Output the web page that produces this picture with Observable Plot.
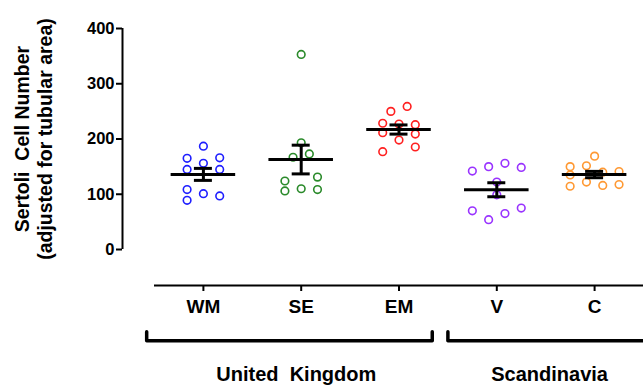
<!DOCTYPE html>
<html><head><meta charset="utf-8">
<script src="https://cdn.jsdelivr.net/npm/d3@7"></script>
<script src="https://cdn.jsdelivr.net/npm/@observablehq/plot@0.6"></script>
<style>
body{margin:0;background:#fff;}
svg text{white-space:pre;}
</style>
</head><body><div id="chart"></div>
<script>
// Categories and colours
const groups = ["WM","SE","EM","V","C"];
const groupColors = ["#1f1fff","#2a8a2a","#ff2020","#9933ff","#ff9933"];

// Individual values (Sertoli cell number) and column slot within each group
const wmValues = [187,165,166,145,156,145,108.5,89,101,97];
const wmSlots  = [0,-2,2,-2,0,2,-2,-2,0,2];
const seValues = [353,193,167,173,124,106,110,131,108.5];
const seSlots  = [0,0,-1,1,-2,-2,0,2,2];
const emValues = [250,259,228.5,227,226,211.5,209,198,177,185.5];
const emSlots  = [-1,1,-2,0,2,-2,2,0,-2,2];
const vValues  = [142,150,156,148.5,122,99,70,54,65,75];
const vSlots   = [-3,-1,1,3,0,0,-3,-1,1,3];
const cValues  = [169,150,151.5,135,140,141,114.5,122,116,117.5];
const cSlots   = [0,-3,-1,-3,1,3,-3,-1,1,3];

// Axis ticks and titles
const yTicks = [0,100,200,300,400];
const yTitle1 = "Sertoli  Cell Number";
const yTitle2 = "(adjusted for tubular area)";

// Region brackets
const regions = ["United  Kingdom","Scandinavia"];
const regionFrom = [-0.58, 2.5];
const regionTo = [2.34, 4.6];
const regionLabelAt = [0.95, 3.54];

const allValues = [wmValues, seValues, emValues, vValues, cValues];
const allSlots = [wmSlots, seSlots, emSlots, vSlots, cSlots];

const points = [];
groups.forEach((g, i) => allValues[i].forEach((v, j) => points.push({group: g, gi: i, slot: allSlots[i][j], value: v})));
const stats = groups.map((g, i) => {
  const vals = allValues[i];
  return {group: g, gi: i, mean: d3.mean(vals), sem: d3.deviation(vals) / Math.sqrt(vals.length)};
});

const SLOT = 1/12, HALF_MEAN = 0.33, HALF_CAP = 0.092;
const bracketY = -165, bracketTickY = -149, regionLabelY = -226;
const bracketPath = [];
regions.forEach((r, k) => {
  bracketPath.push({r, x: regionFrom[k], y: bracketTickY});
  bracketPath.push({r, x: regionFrom[k], y: bracketY});
  bracketPath.push({r, x: regionTo[k], y: bracketY});
  bracketPath.push({r, x: regionTo[k], y: bracketTickY});
});

const chart = Plot.plot({
  width: 643, height: 386,
  marginLeft: 122, insetLeft: 32, marginRight: 0,
  marginTop: 28, marginBottom: 101, insetBottom: 36,
  x: {domain: [-0.5, 4.5], axis: null},
  y: {domain: [0, 400], axis: null},
  color: {domain: groups, range: groupColors},
  style: {fontFamily: "'Liberation Sans', Arial, sans-serif", fontWeight: "bold", color: "black", background: "white", overflow: "visible"},
  marks: [
    // y axis
    Plot.ruleX([-0.5], {y1: 0, y2: 400, dx: -32, strokeWidth: 2}),
    Plot.axisY(yTicks, {anchor: "left", tickSize: 6, tickPadding: 2, fontSize: 16.5, strokeWidth: 2}),
    // x axis
    Plot.ruleY([0], {x1: -0.5, x2: 4.5, dy: 36, strokeWidth: 2}),
    Plot.axisX(d3.range(groups.length), {anchor: "bottom", tickSize: 6, tickPadding: 8, fontSize: 19, strokeWidth: 2, tickFormat: i => groups[i]}),
    // y title
    Plot.text([yTitle1], {frameAnchor: "left", textAnchor: "middle", y: () => 200, rotate: -90, dx: -100, fontSize: 19.5}),
    Plot.text([yTitle2], {frameAnchor: "left", textAnchor: "middle", y: () => 200, rotate: -90, dx: -77, fontSize: 19.5}),
    // dots
    Plot.dot(points, {x: d => d.gi + d.slot * SLOT, y: "value", r: 3.8, stroke: "group", strokeWidth: 1.6, fill: "white"}),
    // mean and SEM
    Plot.ruleY(stats, {y: "mean", x1: d => d.gi - HALF_MEAN, x2: d => d.gi + HALF_MEAN, strokeWidth: 3}),
    Plot.ruleX(stats, {x: "gi", y1: d => d.mean - d.sem, y2: d => d.mean + d.sem, strokeWidth: 3}),
    Plot.ruleY(stats, {y: d => d.mean + d.sem, x1: d => d.gi - HALF_CAP, x2: d => d.gi + HALF_CAP, strokeWidth: 3}),
    Plot.ruleY(stats, {y: d => d.mean - d.sem, x1: d => d.gi - HALF_CAP, x2: d => d.gi + HALF_CAP, strokeWidth: 3}),
    // region brackets
    Plot.line(bracketPath, {x: "x", y: "y", z: "r", strokeWidth: 3.5, strokeLinejoin: "round", strokeLinecap: "round"}),
    Plot.text(regions, {x: (d, k) => regionLabelAt[k], y: () => regionLabelY, fontSize: 20})
  ]
});
document.getElementById("chart").appendChild(chart);
</script>
</body></html>
